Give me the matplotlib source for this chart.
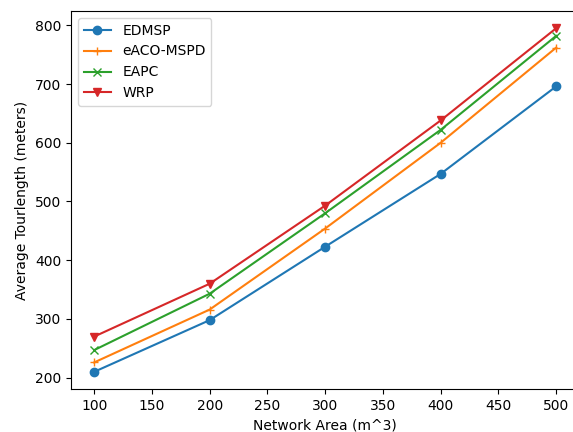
import matplotlib
matplotlib.use("Agg")
import matplotlib.pyplot as plt

areas = [100, 200, 300, 400, 500]
edmsp = [210, 298, 423, 547, 696]
eaco_mspd = [226, 316, 454, 600, 762]
eapc = [247, 343, 480, 622, 782]
wrp = [270, 360, 493, 638, 795]

fig = plt.figure(figsize=(5.73, 4.32), dpi=100)
ax = fig.add_axes([0.124, 0.0995, 0.887, 0.875])
ax.plot(areas, edmsp, marker="o", label="EDMSP")
ax.plot(areas, eaco_mspd, marker="+", label="eACO-MSPD")
ax.plot(areas, eapc, marker="x", label="EAPC")
ax.plot(areas, wrp, marker="v", label="WRP")
ax.set_xlabel("Network Area (m^3)")
ax.set_ylabel("Average Tourlength (meters)")
ax.legend(loc="upper left")
fig.savefig("out.png", dpi=100)
plt.close(fig)
